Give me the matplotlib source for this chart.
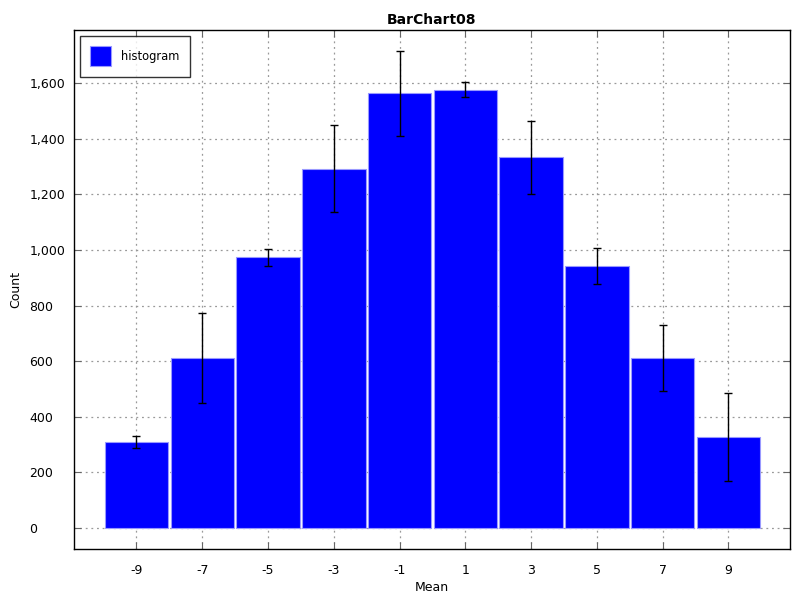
import matplotlib
matplotlib.use("Agg")
import matplotlib.pyplot as plt
from matplotlib.ticker import FuncFormatter

means = [-9, -7, -5, -3, -1, 1, 3, 5, 7, 9]
counts = [309, 610, 973, 1292, 1562, 1575, 1332, 942, 611, 327]
errors = [21, 162, 31, 155, 153, 27, 130, 63, 120, 158]
xticks = [-9, -7, -5, -3, -1, 1, 3, 5, 7, 9]
yticks = [0, 200, 400, 600, 800, 1000, 1200, 1400, 1600]

plt.rcParams['font.family'] = ['DejaVu Sans']
plt.rcParams['axes.unicode_minus'] = False
fig = plt.figure(figsize=(8, 6), dpi=100)
ax = fig.add_axes([0.0925, 0.085, 0.895, 0.865])

ax.bar(means, counts, width=1.93, color='#0000ff', edgecolor='#9999ff',
       linewidth=0.8, label='histogram', zorder=2)
ax.errorbar(means, counts, yerr=errors, fmt='none', ecolor='black',
            elinewidth=1.0, capsize=3, capthick=1.0, zorder=3)

ax.set_xlim(-10.9, 10.87)
ax.set_ylim(-75, 1790)
ax.set_xticks(xticks)
ax.set_yticks(yticks)
ax.yaxis.set_major_formatter(FuncFormatter(lambda v, p: f"{int(v):,}"))
ax.grid(True, linestyle=(0, (1.5, 3)), color='#999999', linewidth=0.9, zorder=0)
ax.set_axisbelow(True)
ax.tick_params(direction='in', length=5, width=0.8, color='#666666',
               labelsize=9, top=True, right=True)
ax.tick_params(axis='x', pad=11)
ax.tick_params(axis='y', pad=32)
for lbl in ax.get_yticklabels():
    lbl.set_horizontalalignment('left')
for s in ax.spines.values():
    s.set_linewidth(1.0)
    s.set_color('black')

ax.set_title('BarChart08', fontsize=10, fontweight='bold', pad=4)
ax.set_xlabel('Mean', fontsize=9, labelpad=3)
ax.set_ylabel('Count', fontsize=9, labelpad=5)

leg = ax.legend(loc='upper left', fontsize=8.3, frameon=True, fancybox=False,
                edgecolor='black', borderpad=0.9, handlelength=1.8,
                handleheight=2.3, handletextpad=0.9, borderaxespad=0.5)
leg.get_frame().set_linewidth(1.0)

fig.savefig('out.png', dpi=100)
